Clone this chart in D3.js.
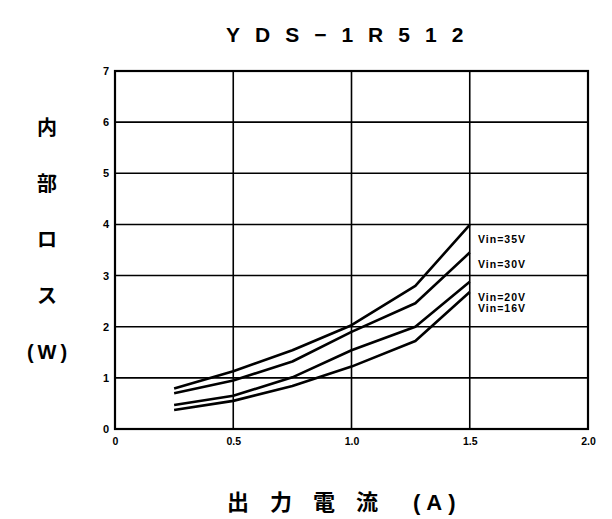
<!DOCTYPE html>
<html><head><meta charset="utf-8">
<script src="https://cdn.jsdelivr.net/npm/d3@7"></script>
<style>
body{margin:0;background:#fff;}
svg{display:block;}
</style></head>
<body>
<svg id="c" width="612" height="519"></svg>
<script>
const title = "YDS−1R512";
const yLabelChars = ["内", "部", "ロ", "ス", "(W)"];
const xLabelMain = "出力電流";
const xLabelUnit = "(A)";
const xTicks = [0, 0.5, 1.0, 1.5, 2.0];
const xTickLabels = ["0", "0.5", "1.0", "1.5", "2.0"];
const yTicks = [0, 1, 2, 3, 4, 5, 6, 7];
const current = [0.25, 0.5, 0.75, 1.0, 1.27, 1.5];
const vin35 = [0.79, 1.13, 1.54, 2.03, 2.80, 3.99];
const vin30 = [0.70, 0.95, 1.32, 1.90, 2.46, 3.45];
const vin20 = [0.47, 0.65, 1.01, 1.54, 2.00, 2.88];
const vin16 = [0.37, 0.55, 0.84, 1.22, 1.72, 2.68];
const seriesNames = ["Vin=35V", "Vin=30V", "Vin=20V", "Vin=16V"];
const labelY = [3.64, 3.15, 2.51, 2.29];
const labelX = 1.535;

const series = [vin35, vin30, vin20, vin16];
const svg = d3.select("#c");
const x = d3.scaleLinear().domain([0, 2]).range([115, 588]);
const y = d3.scaleLinear().domain([0, 7]).range([429, 71]);
const latin = "'Liberation Sans', Arial, sans-serif";
const cjk = "'Noto Sans CJK JP', 'Noto Sans CJK SC', sans-serif";

// grid
const g = svg.append("g");
g.selectAll("line.h").data(yTicks.filter(d => d > 0 && d < 7)).join("line")
  .attr("x1", x(0)).attr("x2", x(2)).attr("y1", d => y(d)).attr("y2", d => y(d))
  .attr("stroke", "#000").attr("stroke-width", 1.6);
g.selectAll("line.v").data(xTicks.filter(d => d > 0 && d < 2)).join("line")
  .attr("y1", y(0)).attr("y2", y(7)).attr("x1", d => x(d)).attr("x2", d => x(d))
  .attr("stroke", "#000").attr("stroke-width", 1.6);
g.append("rect").attr("x", x(0)).attr("y", y(7)).attr("width", x(2) - x(0)).attr("height", y(0) - y(7))
  .attr("fill", "none").attr("stroke", "#000").attr("stroke-width", 2.2);

// axes labels via d3 axes
const yAxis = d3.axisLeft(y).tickValues(yTicks).tickSize(0).tickPadding(6).tickFormat(d3.format("d"));
const ya = svg.append("g").attr("transform", `translate(${x(0)},0)`).call(yAxis);
ya.select(".domain").remove();
ya.selectAll("text").attr("font-family", latin).attr("font-weight", "bold").attr("font-size", 11).attr("fill", "#000");

const xAxis = d3.axisBottom(x).tickValues(xTicks).tickSize(0).tickPadding(9).tickFormat((d, i) => xTickLabels[i]);
const xa = svg.append("g").attr("transform", `translate(0,${y(0)})`).call(xAxis);
xa.select(".domain").remove();
xa.selectAll("text").attr("font-family", latin).attr("font-weight", "bold").attr("font-size", 10.5).attr("fill", "#000");

// curves
const line = d3.line().x((d, i) => x(current[i])).y(d => y(d));
svg.append("g").selectAll("path").data(series).join("path")
  .attr("d", d => line(d)).attr("fill", "none").attr("stroke", "#000")
  .attr("stroke-width", 2.6).attr("stroke-linejoin", "round");

// series labels
svg.append("g").selectAll("text").data(seriesNames).join("text")
  .attr("x", x(labelX)).attr("y", (d, i) => y(labelY[i]))
  .attr("font-family", latin).attr("font-weight", "bold").attr("font-size", 10.5)
  .attr("letter-spacing", 1).text(d => d);

// title
svg.append("text").attr("x", 226).attr("y", 42)
  .attr("font-family", latin).attr("font-weight", "bold").attr("font-size", 21)
  .attr("letter-spacing", 15).text(title);

// y label
svg.append("g").selectAll("text").data(yLabelChars).join("text")
  .attr("x", d => d === "(W)" ? 49 : 47).attr("y", (d, i) => 135 + i * 56)
  .attr("text-anchor", "middle")
  .attr("font-family", (d) => d === "(W)" ? latin : cjk)
  .attr("font-weight", "bold").attr("font-size", d => d === "(W)" ? 20 : 20)
  .attr("letter-spacing", d => d === "(W)" ? 4 : 0)
  .text(d => d);

// x label
const xl = svg.append("text").attr("x", 227).attr("y", 510)
  .attr("font-family", cjk).attr("font-weight", "bold").attr("font-size", 22);
xl.append("tspan").attr("letter-spacing", 21).text(xLabelMain);
xl.append("tspan").attr("dx", 14).attr("letter-spacing", 6).attr("font-family", latin).text(xLabelUnit);
</script>
</body></html>
